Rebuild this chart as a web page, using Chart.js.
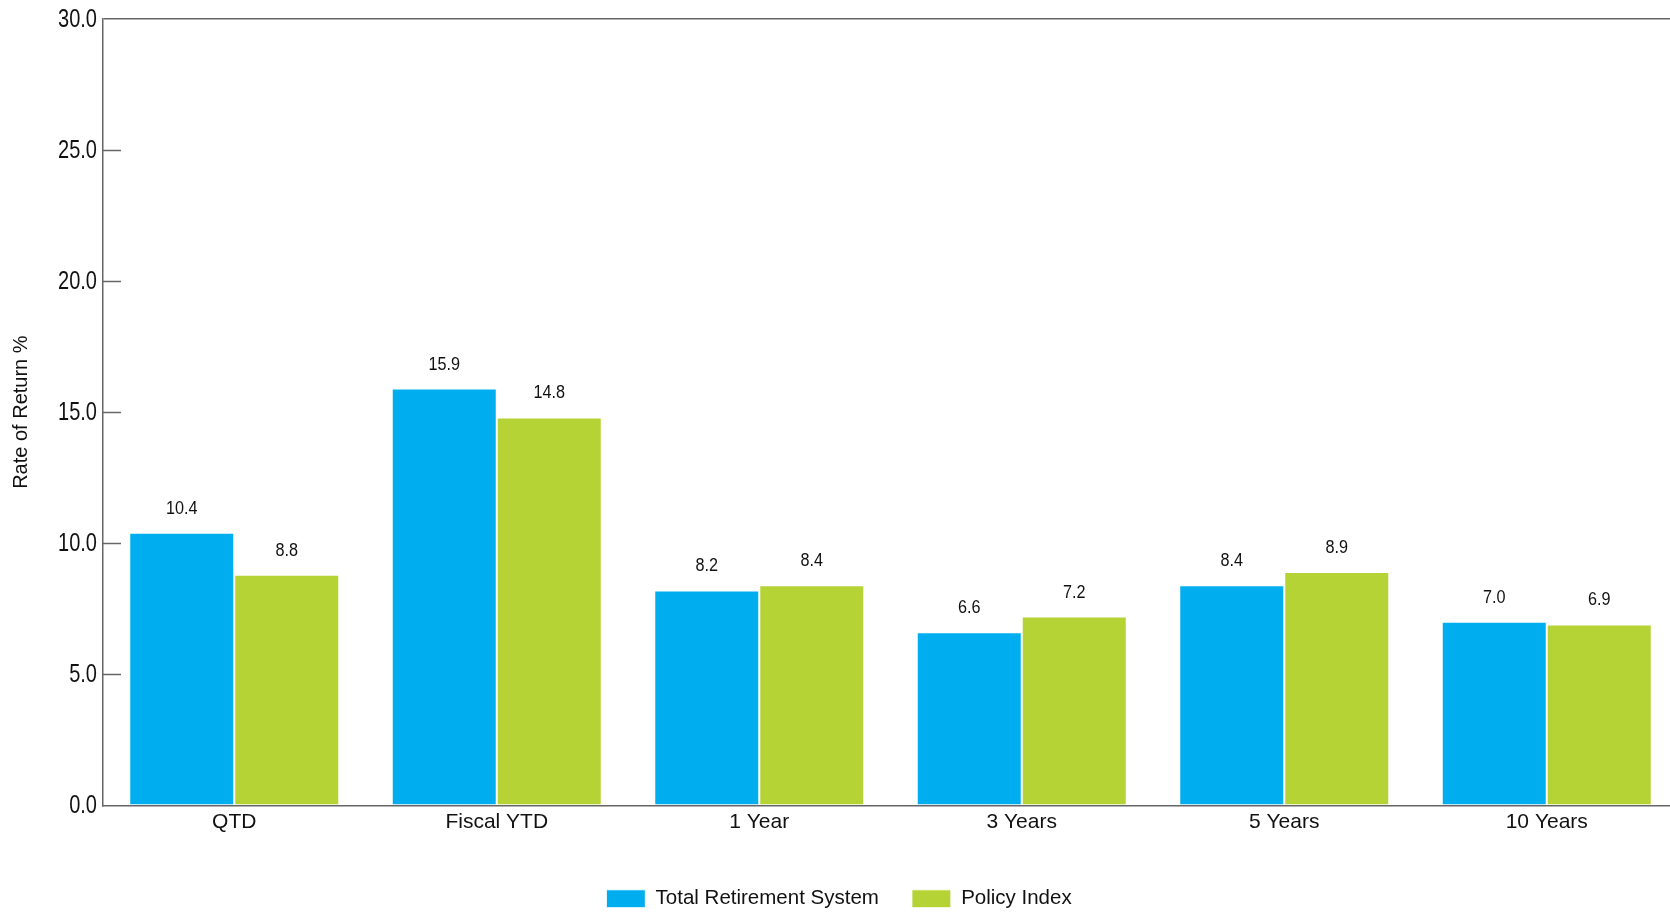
<!DOCTYPE html>
<html>
<head>
<meta charset="utf-8">
<script src="https://cdn.jsdelivr.net/npm/chart.js@4.4.1/dist/chart.umd.min.js"></script>
<style>
  html, body { margin: 0; padding: 0; background: #fff; overflow: hidden; }
  #wrap { width: 1678px; height: 913px; }
</style>
</head>
<body>
<div id="wrap"><canvas id="returns" width="1678" height="913"></canvas></div>
<script>
const periods = ['QTD', 'Fiscal YTD', '1 Year', '3 Years', '5 Years', '10 Years'];
const totalSystem = [10.4, 15.9, 8.2, 6.6, 8.4, 7.0];
const policyIndex = [8.8, 14.8, 8.4, 7.2, 8.9, 6.9];
const yTicks = [0, 5, 10, 15, 20, 25, 30];

const AXIS = '#666666';
const TEXT = '#111111';
const SANS = "'Liberation Sans', Arial, sans-serif";

// draw text squeezed horizontally (condensed look)
function narrowText(ctx, text, x, y, squeeze) {
    ctx.save();
    ctx.translate(x, y);
    ctx.scale(squeeze, 1);
    ctx.fillText(text, 0, 0);
    ctx.restore();
}

// value-axis labels in a condensed face, plus short inward tick marks
const valueAxis = {
    id: 'valueAxis',
    afterDraw(chart) {
        const { ctx, chartArea, scales } = chart;
        ctx.save();
        ctx.strokeStyle = AXIS;
        ctx.lineWidth = 1.5;
        yTicks.slice(1, -1).forEach((v) => {
            const y = Math.round(scales.y.getPixelForValue(v)) + 0.5;
            ctx.beginPath();
            ctx.moveTo(chartArea.left, y);
            ctx.lineTo(chartArea.left + 18, y);
            ctx.stroke();
        });
        ctx.font = `26px ${SANS}`;
        ctx.fillStyle = TEXT;
        ctx.textAlign = 'right';
        ctx.textBaseline = 'middle';
        yTicks.forEach((v) => {
            narrowText(ctx, v.toFixed(1), chartArea.left - 6, scales.y.getPixelForValue(v) + 1, 0.77);
        });
        ctx.restore();
    },
};

// value labels above each bar
const barValues = {
    id: 'barValues',
    afterDatasetsDraw(chart) {
        const { ctx } = chart;
        ctx.save();
        ctx.font = `18px ${SANS}`;
        ctx.fillStyle = TEXT;
        ctx.textAlign = 'center';
        ctx.textBaseline = 'middle';
        chart.data.datasets.forEach((ds, i) => {
            chart.getDatasetMeta(i).data.forEach((bar, j) => {
                narrowText(ctx, ds.data[j].toFixed(1), bar.x, bar.y - 24, 0.9);
            });
        });
        ctx.restore();
    },
};

new Chart(document.getElementById('returns'), {
    type: 'bar',
    data: {
        labels: periods,
        datasets: [
            {
                label: 'Total Retirement System',
                data: totalSystem,
                backgroundColor: '#00aeef',
                borderColor: '#ffffff',
                borderWidth: 1,
            },
            {
                label: 'Policy Index',
                data: policyIndex,
                backgroundColor: '#b5d334',
                borderColor: '#ffffff',
                borderWidth: 1,
            },
        ],
    },
    options: {
        responsive: false,
        devicePixelRatio: 1,
        animation: false,
        layout: { padding: { top: 19, left: 0, right: 0, bottom: -6 } },
        datasets: {
            bar: { categoryPercentage: 0.8, barPercentage: 1.0 },
        },
        plugins: {
            legend: {
                position: 'bottom',
                labels: {
                    color: TEXT,
                    font: { size: 20.5, family: SANS },
                    boxWidth: 39,
                    boxHeight: 18,
                    padding: 33,
                },
            },
            tooltip: { enabled: false },
        },
        scales: {
            x: {
                grid: { display: false, drawTicks: false },
                border: { display: true, color: AXIS, width: 1.5 },
                ticks: {
                    color: TEXT,
                    font: { size: 21, family: SANS },
                    padding: 4,
                    maxRotation: 0,
                },
                afterFit(scale) {
                    scale.height += 17;
                },
            },
            y: {
                min: 0,
                max: 30,
                afterFit(scale) {
                    scale.width = 103;
                },
                afterBuildTicks(scale) {
                    scale.ticks = yTicks.map((v) => ({ value: v }));
                },
                grid: {
                    drawTicks: false,
                    lineWidth: 1.5,
                    color: (c) => (c.tick && c.tick.value === 30 ? AXIS : 'rgba(0,0,0,0)'),
                },
                border: { display: true, color: AXIS, width: 1.5 },
                ticks: { display: false },
                title: {
                    display: true,
                    text: 'Rate of Return %',
                    color: TEXT,
                    font: { size: 20, family: SANS },
                    padding: { top: 9, bottom: 0 },
                },
            },
        },
    },
    plugins: [valueAxis, barValues],
});
</script>
</body>
</html>
